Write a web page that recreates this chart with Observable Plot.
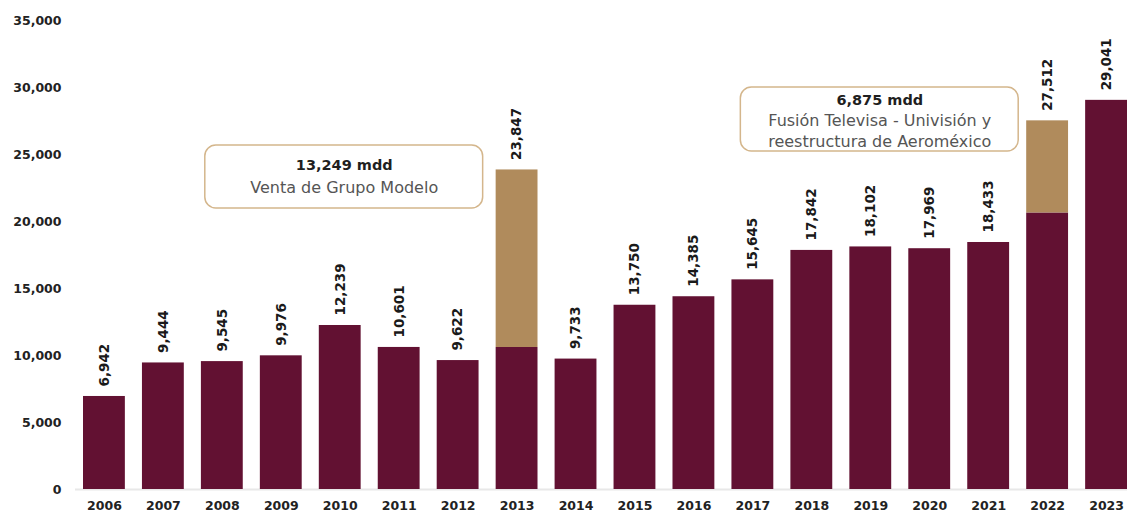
<!DOCTYPE html>
<html>
<head>
<meta charset="utf-8">
<script src="https://cdn.jsdelivr.net/npm/d3@7"></script>
<script src="https://cdn.jsdelivr.net/npm/@observablehq/plot@0.6"></script>
<style>
  html, body { margin: 0; padding: 0; background: #fff; }
  #chart svg { display: block; }
</style>
</head>
<body>
<div id="chart"></div>
<script>
const years = ["2006","2007","2008","2009","2010","2011","2012","2013","2014","2015","2016","2017","2018","2019","2020","2021","2022","2023"];
const totals = [6942, 9444, 9545, 9976, 12239, 10601, 9622, 23847, 9733, 13750, 14385, 15645, 17842, 18102, 17969, 18433, 27512, 29041];
const extras = [0, 0, 0, 0, 0, 0, 0, 13249, 0, 0, 0, 0, 0, 0, 0, 0, 6875, 0];
const yTicks = [0, 5000, 10000, 15000, 20000, 25000, 30000, 35000];

const annotations = [
  {year: "2010", top: 25670, bottom: 20970, dx: 4,
   lines: [{text: "13,249 mdd", y: 24180, bold: true}, {text: "Venta de Grupo Modelo", y: 22540, bold: false}]},
  {year: "2019", top: 30000, bottom: 25220, dx: 9,
   lines: [{text: "6,875 mdd", y: 29030, bold: true}, {text: "Fusión Televisa - Univisión y", y: 27540, bold: false}, {text: "reestructura de Aeroméxico", y: 25970, bold: false}]}
];

const MAROON = "#621132";
const GOLD = "#B08B5C";

const stacked = [];
years.forEach((yr, i) => {
  stacked.push({year: yr, part: "base", value: totals[i] - extras[i]});
  if (extras[i] > 0) stacked.push({year: yr, part: "extra", value: extras[i]});
});
const labels = years.map((yr, i) => ({year: yr, total: totals[i]}));

const font = "'DejaVu Sans', sans-serif";

const annotationMarks = annotations.flatMap(a => [
  Plot.barY([a], {x: "year", y1: "bottom", y2: "top", dx: a.dx, insetLeft: -118, insetRight: -118, rx: 11, fill: "#fff", stroke: "#D4B68C", strokeWidth: 1.5}),
  Plot.text(a.lines.filter(l => l.bold), {x: () => a.year, y: "y", text: "text", dx: a.dx, fontSize: 14.5, fontWeight: "bold", fill: "#1f1f1f"}),
  Plot.text(a.lines.filter(l => !l.bold), {x: () => a.year, y: "y", text: "text", dx: a.dx, fontSize: 16, letterSpacing: 0.5, fill: "#555"})
]);

const chart = Plot.plot({
  width: 1127,
  height: 516,
  marginLeft: 83,
  marginRight: 0,
  marginTop: 20,
  marginBottom: 27,
  style: {fontFamily: font, background: "#fff"},
  x: {domain: years, paddingInner: 0.29, paddingOuter: 0, round: false, label: null},
  y: {domain: [0, 35000], label: null},
  color: {domain: ["base", "extra"], range: [MAROON, GOLD]},
  marks: [
    Plot.ruleY([0], {stroke: "#e8e8e8", strokeWidth: 2, insetLeft: -8}),
    ...annotationMarks,
    Plot.barY(stacked, {x: "year", y: "value", fill: "part", order: ["base", "extra"]}),
    Plot.text(labels, {x: "year", y: "total", text: d => d3.format(",")(d.total), rotate: -90, textAnchor: "start", dy: -10, fontSize: 13.5, fontWeight: "bold", fill: "#1a1a1a"}),
    Plot.axisY({ticks: yTicks, tickFormat: d3.format(","), tickSize: 0, tickPadding: 22, fontSize: 12.5, fontWeight: "bold", fill: "#222"}),
    Plot.axisX({tickSize: 0, tickPadding: 12, fontSize: 12.5, fontWeight: "bold", fill: "#222"})
  ]
});

document.getElementById("chart").appendChild(chart);
</script>
</body>
</html>
